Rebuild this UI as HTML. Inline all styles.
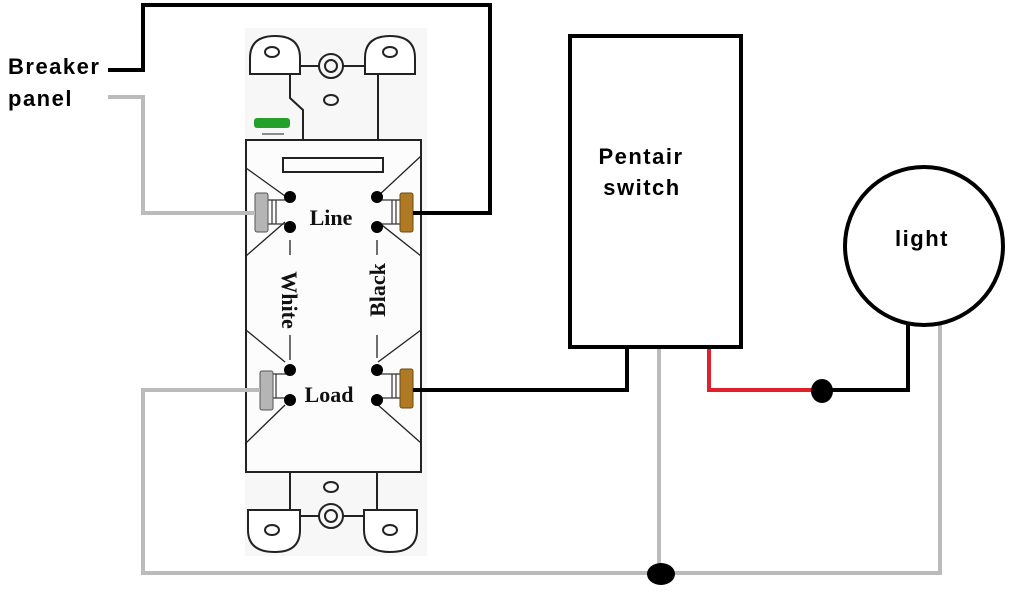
<!DOCTYPE html>
<html><head><style>html,body{margin:0;padding:0;background:#fff;width:1024px;height:600px;overflow:hidden}</style></head>
<body>
<svg width="1024" height="600" viewBox="0 0 1024 600" xmlns="http://www.w3.org/2000/svg">
<rect x="245" y="28" width="182" height="528" fill="#f7f7f7"/>
<g fill="none" stroke="#222" stroke-width="2">
<path d="M250 74 V58 Q250 36 275 36 Q300 36 300 58 V74 Z" fill="#fff"/>
<path d="M365 74 V58 Q365 36 390 36 Q415 36 415 58 V74 Z" fill="#fff"/>
<ellipse cx="272" cy="52" rx="7" ry="5"/><ellipse cx="390" cy="52" rx="7" ry="5"/>
<circle cx="331" cy="66" r="12"/><circle cx="331" cy="66" r="6"/>
<line x1="300" y1="66" x2="319" y2="66"/><line x1="343" y1="66" x2="365" y2="66"/>
<ellipse cx="331" cy="100" rx="7" ry="5"/>
<path d="M290 74 V98 L303 110 V140"/><line x1="378" y1="74" x2="378" y2="140"/>
<rect x="246" y="140" width="175" height="332" fill="#fcfcfc"/>
<rect x="283" y="158" width="100" height="14"/>
<g stroke-width="1.3">
<line x1="246" y1="168" x2="285" y2="196"/><line x1="285" y1="222" x2="246" y2="256"/>
<line x1="421" y1="156" x2="378" y2="196"/><line x1="378" y1="222" x2="421" y2="256"/>
<line x1="246" y1="330" x2="285" y2="362"/><line x1="285" y1="405" x2="246" y2="443"/>
<line x1="421" y1="330" x2="378" y2="362"/><line x1="378" y1="405" x2="421" y2="443"/>
<line x1="290" y1="240" x2="290" y2="255"/><line x1="290" y1="335" x2="290" y2="360"/>
<line x1="377" y1="240" x2="377" y2="255"/><line x1="377" y1="335" x2="377" y2="358"/>
</g>
<line x1="290" y1="472" x2="290" y2="510"/><line x1="377" y1="472" x2="377" y2="510"/>
<ellipse cx="331" cy="487" rx="7" ry="5"/>
<circle cx="331" cy="516" r="12"/><circle cx="331" cy="516" r="6"/>
<line x1="300" y1="516" x2="319" y2="516"/><line x1="343" y1="516" x2="365" y2="516"/>
<path d="M248 510 H300 V530 Q300 552 275 552 Q248 552 248 530 Z" fill="#fff"/>
<path d="M364 510 H417 V530 Q417 552 390 552 Q364 552 364 530 Z" fill="#fff"/>
<ellipse cx="272" cy="530" rx="7" ry="5"/><ellipse cx="390" cy="530" rx="7" ry="5"/>
</g>
<rect x="254" y="118" width="36" height="10" rx="3" fill="#22a02a"/>
<line x1="262" y1="134" x2="284" y2="134" stroke="#666" stroke-width="1.5"/>
<g stroke="#333" stroke-width="1.2" fill="none">
<path d="M268 200 H288 M268 224 H288 M272 200 V224 M276 200 V224"/>
<path d="M380 200 H400 M380 224 H400 M392 200 V224 M396 200 V224"/>
<path d="M268 374 H288 M268 398 H288 M272 374 V398 M276 374 V398"/>
<path d="M380 374 H400 M380 398 H400 M392 374 V398 M396 374 V398"/>
</g>
<rect x="255" y="193" width="13" height="39" rx="2" fill="#b5b5b5" stroke="#555"/>
<rect x="400" y="193" width="13" height="39" rx="2" fill="#b07a25" stroke="#6a4a10"/>
<rect x="260" y="371" width="13" height="39" rx="2" fill="#b5b5b5" stroke="#555"/>
<rect x="400" y="369" width="13" height="39" rx="2" fill="#b07a25" stroke="#6a4a10"/>
<g fill="#000">
<circle cx="290" cy="197" r="6"/><circle cx="290" cy="227" r="6"/>
<circle cx="377" cy="197" r="6"/><circle cx="377" cy="227" r="6"/>
<circle cx="290" cy="370" r="6"/><circle cx="290" cy="400" r="6"/>
<circle cx="377" cy="370" r="6"/><circle cx="377" cy="400" r="6"/>
</g>
<g font-family="Liberation Serif, serif" font-weight="bold" font-size="22" fill="#111">
<text x="331" y="225" text-anchor="middle">Line</text>
<text x="329" y="402" text-anchor="middle">Load</text>
<text transform="translate(282,300) rotate(90)" text-anchor="middle">White</text>
<text transform="translate(385,290) rotate(-90)" text-anchor="middle">Black</text>
</g>
<g fill="none" stroke-linejoin="miter" stroke-width="4">
<path d="M108 70 H143 V5 H490 V213 H413" stroke="#000"/>
<path d="M108 97 H143 V213 H255" stroke="#bbb"/>
<path d="M260 390 H143 V573 H940 V325" stroke="#bbb"/>
<path d="M659 347 V573" stroke="#bbb"/>
<path d="M413 390 H627 V347" stroke="#000"/>
<path d="M709 347 V390 H822" stroke="#e0202a"/>
<path d="M822 390 H908 V325" stroke="#000"/>
<rect x="570" y="36" width="171" height="311" stroke="#000"/>
<circle cx="924" cy="246" r="79" stroke="#000"/>
</g>
<ellipse cx="661" cy="574" rx="14" ry="11" fill="#000"/>
<ellipse cx="822" cy="391" rx="11" ry="12" fill="#000"/>
<g font-family="Liberation Sans, sans-serif" font-weight="bold" font-size="22" letter-spacing="1.5" fill="#000">
<text x="8" y="74">Breaker</text>
<text x="8" y="106">panel</text>
<text x="641" y="164" text-anchor="middle">Pentair</text>
<text x="642" y="195" text-anchor="middle">switch</text>
<text x="922" y="246" text-anchor="middle">light</text>
</g>
</svg>
</body></html>
